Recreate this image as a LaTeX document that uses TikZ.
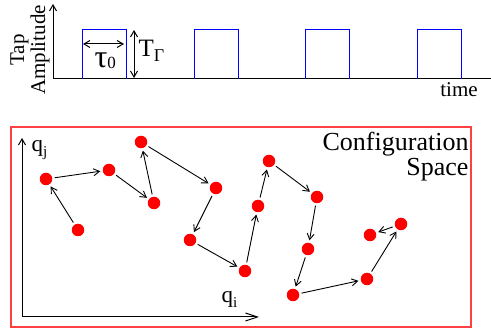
\documentclass[tikz,border=0pt]{standalone}
\usepackage{fontspec}
\setmainfont{Liberation Serif}
\usetikzlibrary{arrows.meta,positioning}

% lowered small index, as in the labels
\newcommand{\lowsub}[3][5pt]{\raisebox{-#1}{\fontsize{#2}{#2}\selectfont #3}}

\begin{document}
\begin{tikzpicture}[x=1pt, y=-1pt, line width=1pt,
  barb/.style={-{Straight Barb[length=6pt,width=7pt]}},
  twobarb/.style={{Straight Barb[length=6pt,width=7pt]}-{Straight Barb[length=6pt,width=7pt]}},
  state/.style={circle, fill=red, inner sep=0pt, minimum size=12.5pt, outer sep=2.5pt},
  hop/.style={barb, line width=0.9pt},
  lbl/.style={inner sep=0pt, font=\fontsize{21}{21}\selectfont}]
  \useasboundingbox (0,0) rectangle (491,334);

  % Tap amplitude axes
  \coordinate (o1) at (53,79);
  \coordinate (ytop) at (53,4);
  \coordinate (xend) at (491,79);
  \draw[barb] (o1) -- (ytop);
  \draw (o1) -- (xend);

  % Pulses
  \foreach \x in {82,194,305,417}
    \draw[blue] (\x,79) -- (\x,29.5) -- (\x+44,29.5) -- (\x+44,79);

  % Pulse width and period
  \coordinate (wl) at (83,44);
  \coordinate (wr) at (124,44);
  \coordinate (ht) at (134,30);
  \coordinate (hb) at (134,78);
  \draw[twobarb] (wl) -- (wr);
  \draw[twobarb] (ht) -- (hb);
  \node[lbl, anchor=base west, font=\fontsize{32}{32}\selectfont] (tau) at (94,68) {τ\lowsub[1pt]{17}{0}};
  \node[lbl, anchor=base west, font=\fontsize{25}{25}\selectfont] (per) at (138,57) {T\lowsub[5pt]{18}{Γ}};

  % Axis labels
  \node[lbl, rotate=90, align=center] (amp) at (30,50) {Tap\\Amplitude};
  \node[lbl, anchor=base] (time) at (459,97) {time};

  % Configuration space box
  \draw[red!75, line width=1.3pt] (11,127) rectangle (471,327);
  \node[inner sep=0pt, anchor=north east, align=right, font=\fontsize{26}{25}\selectfont] (cs) at (469,132) {Configuration\\Space};

  \coordinate (o2) at (22,317);
  \coordinate (qj) at (22,138);
  \coordinate (qi) at (259,317);
  \draw[barb] (o2) -- (qj);
  \draw[-{Straight Barb[length=12pt,width=8pt]}] (o2) -- (qi);
  \node[lbl, anchor=base west, font=\fontsize{23}{23}\selectfont] (lj) at (31,152) {q\lowsub[5pt]{15}{j}};
  \node[lbl, anchor=base west, font=\fontsize{23}{23}\selectfont] (li) at (221,303) {q\lowsub[5pt]{15}{i}};

  % States
  \node[state] (s1) at (46,179) {};
  \node[state] (s2) at (78,230) {};
  \node[state] (s3) at (109,170) {};
  \node[state] (s4) at (141,142) {};
  \node[state] (s5) at (154,203) {};
  \node[state] (s6) at (216,188) {};
  \node[state] (s7) at (190,240) {};
  \node[state] (s8) at (245,271) {};
  \node[state] (s9) at (258,206) {};
  \node[state] (s10) at (269,161) {};
  \node[state] (s11) at (317,197) {};
  \node[state] (s12) at (308,249) {};
  \node[state] (s13) at (293,295) {};
  \node[state] (s14) at (367,279) {};
  \node[state] (s15) at (401,224) {};
  \node[state] (s16) at (370,235) {};

  % Walk
  \draw[hop] (s2) -- (s1);
  \draw[hop] (s1) -- (s3);
  \draw[hop] (s3) -- (s5);
  \draw[hop] (s5) -- (s4);
  \draw[hop] (s4) -- (s6);
  \draw[hop] (s6) -- (s7);
  \draw[hop] (s7) -- (s8);
  \draw[hop] (s8) -- (s9);
  \draw[hop] (s9) -- (s10);
  \draw[hop] (s10) -- (s11);
  \draw[hop] (s11) -- (s12);
  \draw[hop] (s12) -- (s13);
  \draw[hop] (s13) -- (s14);
  \draw[hop] (s14) -- (s15);
  \draw[hop] (s15) -- (s16);
\end{tikzpicture}
\end{document}
